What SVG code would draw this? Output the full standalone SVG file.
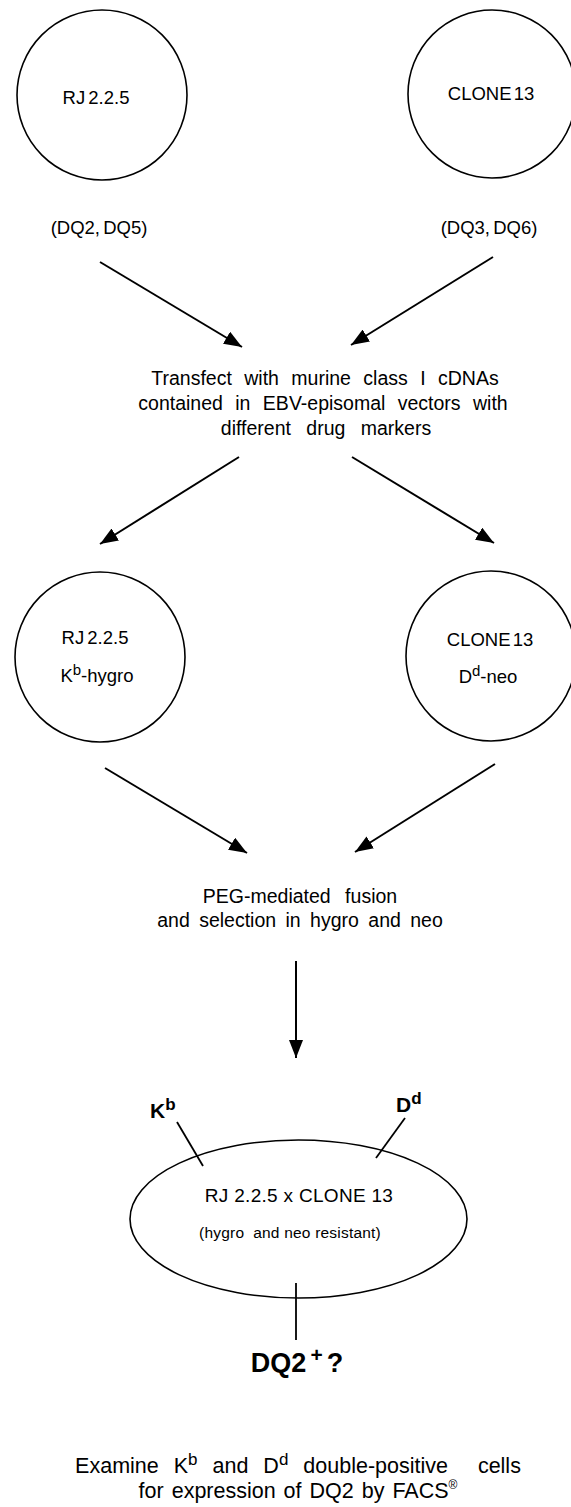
<svg xmlns="http://www.w3.org/2000/svg" width="571" height="1507" viewBox="0 0 571 1507">
<style>
text{font-family:"Liberation Sans",Arial,sans-serif;fill:#000}
.lbl{font-size:18.5px;text-anchor:middle}
.step{font-size:19.5px;text-anchor:middle}
.bold{font-weight:bold}
.cell{fill:none;stroke:#000;stroke-width:1.6}
.arr{stroke:#000;stroke-width:2;fill:none;marker-end:url(#ah)}
.tick{stroke:#000;stroke-width:1.8;fill:none}
</style>
<defs>
<marker id="ah" markerUnits="userSpaceOnUse" markerWidth="20" markerHeight="14" refX="18" refY="7" orient="auto">
<path d="M0,0 L18,7 L0,14 z" fill="#000"/>
</marker>
</defs>
<rect width="571" height="1507" fill="#fff"/>
<g id="rj225">
<circle class="cell" cx="102" cy="95" r="85"/>
<text class="lbl" x="96" y="104" word-spacing="-2">RJ 2.2.5</text>
<text class="lbl" x="99" y="234" word-spacing="-2">(DQ2, DQ5)</text>
</g>
<g id="clone13">
<circle class="cell" cx="492" cy="94" r="84"/>
<text class="lbl" x="491" y="100" word-spacing="-3">CLONE 13</text>
<text class="lbl" x="489" y="234" word-spacing="-2">(DQ3, DQ6)</text>
</g>
<g id="transfect">
<text class="step" x="325" y="385" word-spacing="7">Transfect with murine class I cDNAs</text>
<text class="step" x="323" y="410" word-spacing="7">contained in EBV-episomal vectors with</text>
<text class="step" x="326" y="435" word-spacing="10">different drug markers</text>
</g>
<g id="rj225-kb">
<circle class="cell" cx="100" cy="657" r="85"/>
<text class="lbl" x="95" y="644" word-spacing="-2">RJ 2.2.5</text>
<text class="lbl" x="97" y="682">K<tspan font-size="15" dy="-7">b</tspan><tspan dy="7">-hygro</tspan></text>
</g>
<g id="clone13-dd">
<circle class="cell" cx="491" cy="656" r="85"/>
<text class="lbl" x="490" y="646" word-spacing="-3">CLONE 13</text>
<text class="lbl" x="488" y="683">D<tspan font-size="15" dy="-7">d</tspan><tspan dy="7">-neo</tspan></text>
</g>
<g id="fusion">
<text class="step" x="300" y="903" word-spacing="9">PEG-mediated fusion</text>
<text class="step" x="300" y="927" word-spacing="4">and selection in hygro and neo</text>
</g>
<g id="hybrid">
<ellipse class="cell" cx="298.5" cy="1219" rx="168.5" ry="79"/>
<line class="tick" x1="177" y1="1122" x2="203" y2="1166"/>
<line class="tick" x1="405" y1="1118" x2="376" y2="1158"/>
<line class="tick" x1="296" y1="1283" x2="296" y2="1340"/>
<text class="bold" x="150" y="1118" font-size="21">K<tspan font-size="17" dy="-8">b</tspan></text>
<text class="bold" x="396" y="1112" font-size="21">D<tspan font-size="17" dy="-8">d</tspan></text>
<text x="299" y="1202" font-size="19" text-anchor="middle" letter-spacing="0.3">RJ 2.2.5 x CLONE 13</text>
<text x="290" y="1238" font-size="15.5" text-anchor="middle" letter-spacing="0.2" xml:space="preserve">(hygro  and neo resistant)</text>
<text class="bold" x="297" y="1372" font-size="27" text-anchor="middle">DQ2<tspan font-size="21" dx="4" dy="-10">+</tspan><tspan dx="4" dy="10">?</tspan></text>
</g>
<g id="examine">
<text x="298" y="1473" font-size="21.5" text-anchor="middle" word-spacing="9" xml:space="preserve">Examine K<tspan font-size="17" dy="-8">b</tspan><tspan dy="8"> and D</tspan><tspan font-size="17" dy="-8">d</tspan><tspan dy="8"> double-positive  cells</tspan></text>
<text x="298" y="1498" font-size="21.5" text-anchor="middle" word-spacing="2">for expression of DQ2 by FACS<tspan font-size="12" dy="-9">®</tspan></text>
</g>
<g id="connectors">
<line class="arr" x1="100" y1="262" x2="242" y2="347"/>
<line class="arr" x1="493" y1="257" x2="351" y2="345"/>
<line class="arr" x1="239" y1="457" x2="100" y2="544"/>
<line class="arr" x1="352" y1="457" x2="494" y2="543"/>
<line class="arr" x1="105" y1="768" x2="247" y2="853"/>
<line class="arr" x1="495" y1="764" x2="355" y2="852"/>
<line class="arr" x1="296" y1="961" x2="296" y2="1058" stroke-width="1.6"/>
</g>
</svg>
